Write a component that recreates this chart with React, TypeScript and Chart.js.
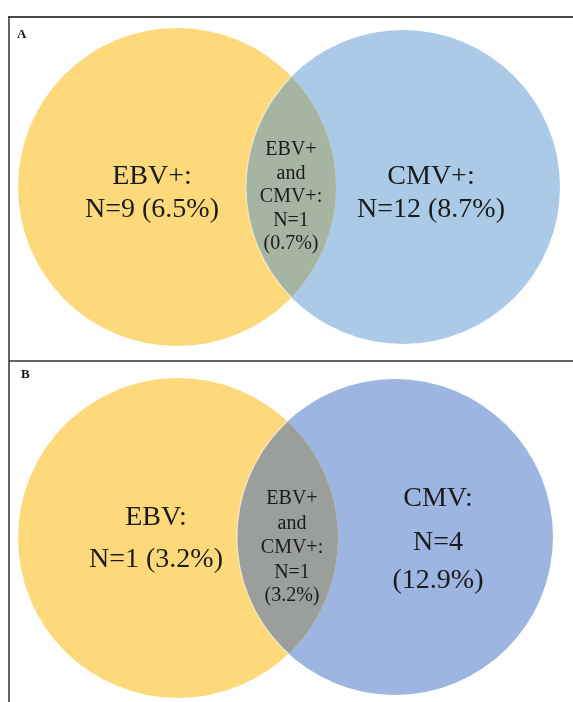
import React, { useEffect, useRef } from "react";
import { Chart, registerables } from "chart.js";

Chart.register(...registerables);

// ---- data ----
const PANELS = ["A", "B"];
const LEFT_LABELS = ["EBV+:", "EBV:"];
const RIGHT_LABELS = ["CMV+:", "CMV:"];
const LEFT_N = [9, 1];
const LEFT_PCT = ["6.5", "3.2"];
const RIGHT_N = [12, 4];
const RIGHT_PCT = ["8.7", "12.9"];
const BOTH_LABEL = ["EBV+", "and", "CMV+:"];
const BOTH_N = [1, 1];
const BOTH_PCT = ["0.7", "3.2"];

// ---- layout / style ----
const W = 573;
const H = 702;
const LAYOUT = [
  {
    left: { x: 177, y: 187, r: 159 },
    right: { x: 403, y: 187, r: 157 },
    leftText: { x: 152, base: [184, 217] },
    rightText: { x: 431, base: [184, 217] },
    lensText: { x: 291, base: [155, 178.5, 202, 225.5, 249] },
    wrapRight: false,
    tag: { x: 17, y: 38 },
    colors: { left: "#FDD97B", right: "#AACAE8", lens: "#A5B5A1" },
  },
  {
    left: { x: 178, y: 538, r: 160 },
    right: { x: 395, y: 537, r: 158 },
    leftText: { x: 156, base: [525, 567] },
    rightText: { x: 438, base: [506, 550, 588] },
    lensText: { x: 292, base: [504, 528.5, 553, 577.5, 601] },
    wrapRight: true,
    tag: { x: 21, y: 378 },
    colors: { left: "#FDD97B", right: "#9DB5E0", lens: "#9A9F9B" },
  },
];

const BIG_FONT = '28px "Liberation Serif", "Times New Roman", serif';
const LENS_FONT = '20px "Liberation Serif", "Times New Roman", serif';
const TAG_FONT = 'bold 13px "Liberation Serif", "Times New Roman", serif';
const TEXT_COLOR = "#1b1b1b";

const vennPlugin = {
  id: "venn",
  beforeDatasetsDraw(chart: any) {
    const ctx = chart.ctx;
    ctx.save();
    ctx.fillStyle = "#ffffff";
    ctx.fillRect(0, 0, chart.width, chart.height);
    ctx.restore();
  },
  afterDatasetsDraw(chart: any) {
    const ctx = chart.ctx;
    PANELS.forEach((tag, i) => {
      const lay = LAYOUT[i];
      const a = chart.getDatasetMeta(0).data[i];
      const b = chart.getDatasetMeta(1).data[i];
      const ra = a.options.radius;
      const rb = b.options.radius;
      // lens
      ctx.save();
      ctx.beginPath();
      ctx.arc(a.x, a.y, ra, 0, Math.PI * 2);
      ctx.clip();
      ctx.beginPath();
      ctx.arc(b.x, b.y, rb, 0, Math.PI * 2);
      ctx.fillStyle = lay.colors.lens;
      ctx.fill();
      ctx.strokeStyle = "rgba(255,255,255,0.55)";
      ctx.lineWidth = 1.2;
      ctx.stroke();
      ctx.restore();

      ctx.save();
      ctx.fillStyle = TEXT_COLOR;
      ctx.textAlign = "center";
      ctx.textBaseline = "alphabetic";
      ctx.font = BIG_FONT;
      const leftLines = [LEFT_LABELS[i], `N=${LEFT_N[i]} (${LEFT_PCT[i]}%)`];
      leftLines.forEach((t, k) => ctx.fillText(t, lay.leftText.x, lay.leftText.base[k]));
      const rightLines = lay.wrapRight
        ? [RIGHT_LABELS[i], `N=${RIGHT_N[i]}`, `(${RIGHT_PCT[i]}%)`]
        : [RIGHT_LABELS[i], `N=${RIGHT_N[i]} (${RIGHT_PCT[i]}%)`];
      rightLines.forEach((t, k) => ctx.fillText(t, lay.rightText.x, lay.rightText.base[k]));
      ctx.font = LENS_FONT;
      const lensLines = [...BOTH_LABEL, `N=${BOTH_N[i]}`, `(${BOTH_PCT[i]}%)`];
      lensLines.forEach((t, k) => ctx.fillText(t, lay.lensText.x, lay.lensText.base[k]));
      ctx.font = TAG_FONT;
      ctx.textAlign = "left";
      ctx.fillStyle = "#111";
      ctx.fillText(tag, lay.tag.x, lay.tag.y);
      ctx.restore();
    });
    // frame
    ctx.save();
    ctx.strokeStyle = "#4a4a4a";
    ctx.lineWidth = 2;
    ctx.beginPath();
    ctx.moveTo(8, 17);
    ctx.lineTo(W, 17);
    ctx.stroke();
    ctx.strokeStyle = "#333";
    ctx.lineWidth = 1.5;
    ctx.beginPath();
    ctx.moveTo(9, 17);
    ctx.lineTo(9, H);
    ctx.moveTo(9, 361);
    ctx.lineTo(W, 361);
    ctx.stroke();
    ctx.restore();
  },
};

export default function App() {
  const ref = useRef<HTMLCanvasElement | null>(null);
  useEffect(() => {
    if (!ref.current) return;
    const chart = new Chart(ref.current, {
      type: "bubble",
      data: {
        datasets: [
          {
            label: "EBV",
            data: LAYOUT.map((l) => ({ x: l.left.x, y: l.left.y, r: l.left.r })),
            backgroundColor: LAYOUT.map((l) => l.colors.left),
            borderWidth: 0,
            clip: false,
          },
          {
            label: "CMV",
            data: LAYOUT.map((l) => ({ x: l.right.x, y: l.right.y, r: l.right.r })),
            backgroundColor: LAYOUT.map((l) => l.colors.right),
            borderWidth: 0,
            clip: false,
          },
        ],
      },
      options: {
        responsive: false,
        animation: false,
        layout: { padding: 0, autoPadding: false },
        events: [],
        scales: {
          x: { type: "linear", min: 0, max: W, display: false },
          y: { type: "linear", min: 0, max: H, reverse: true, display: false },
        },
        plugins: { legend: { display: false }, tooltip: { enabled: false } },
      },
      plugins: [vennPlugin],
    });
    return () => chart.destroy();
  }, []);
  return (
    <div style={{ position: "fixed", left: 0, top: 0, width: W, height: H, background: "#fff" }}>
      <canvas ref={ref} width={W} height={H} style={{ width: W, height: H, display: "block" }} />
    </div>
  );
}
